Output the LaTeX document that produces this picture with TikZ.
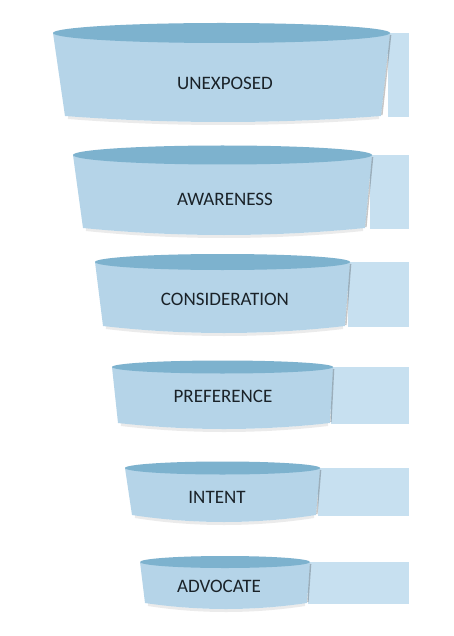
\documentclass[tikz,border=0pt]{standalone}
\usepackage{fontspec}
\setmainfont{Carlito}
\definecolor{bodyblue}{HTML}{B5D4E8}
\definecolor{topblue}{HTML}{7DB2CE}
\definecolor{tabblue}{HTML}{C7E0F0}
\definecolor{labelgray}{HTML}{1A2228}
\tikzset{
  ringbody/.style={fill=bodyblue,draw=none},
  ringtop/.style={fill=topblue,draw=none},
  ringtab/.style={fill=tabblue,draw=none},
  ringshadow/.style={draw=black,opacity=0.08,line width=3pt},
  edgeshadow/.style={draw=black,opacity=0.22,line width=1.4pt},
  ringlabel/.style={font=\fontsize{19}{22}\selectfont,text=labelgray,inner sep=0pt}
}
\begin{document}
\begin{tikzpicture}[x=1pt,y=1pt]
\useasboundingbox (0,0) rectangle (453,-636);
\fill[white] (0,0) rectangle (453,-636);
\foreach \xl/\xr/\yc/\ry/\bl/\br/\ye/\yb/\tx/\ty/\lab/\nm in {
  53/390/33/10/65/381/116/122/225/83/UNEXPOSED/unexposed,
  73/372/155/9.5/83/365/228/235/225/199/AWARENESS/awareness,
  95/350/262/8/103/345/326/333/225/299/CONSIDERATION/consideration,
  112/333/367/6.5/118/330/423/429/223/396/PREFERENCE/preference,
  125/320/468/6.5/132/316/515/522/217/497/INTENT/intent,
  140/310/562/6/145/307/603/609/219/586/ADVOCATE/advocate}{
  \pgfmathsetmacro\mx{(\xl+\xr)/2}
  \pgfmathsetmacro\rx{(\xr-\xl)/2}
  \pgfmathsetmacro\ca{\bl+(\br-\bl)/3}
  \pgfmathsetmacro\cb{\bl+2*(\br-\bl)/3}
  \pgfmathsetmacro\cy{\ye+4/3*(\yb-\ye)}
  % tab on the right
  \fill[ringtab] (\xr-2,-\yc) rectangle (409,-\ye-1);
  % soft shadow under the body
  \draw[ringshadow] (\bl+3,-\ye-1.5) .. controls (\ca,-\cy-1.5) and (\cb,-\cy-1.5) .. (\br-2,-\ye-1.5);
  % body
  \fill[ringbody] (\xl,-\yc) -- (\bl,-\ye) .. controls (\ca,-\cy) and (\cb,-\cy) .. (\br,-\ye) -- (\xr,-\yc) -- cycle;
  % right edge shadow
  \draw[edgeshadow] (\xr+0.6,-\yc-2) -- (\br+0.9,-\ye+1);
  % top ellipse
  \fill[ringtop] (\mx,-\yc) ellipse[x radius=\rx, y radius=\ry];
  \node[ringlabel] (\nm) at (\tx,-\ty) {\lab};
}
\end{tikzpicture}
\end{document}
